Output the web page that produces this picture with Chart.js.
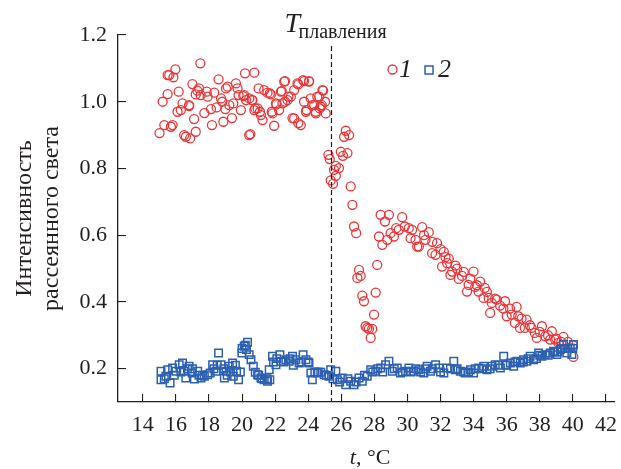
<!DOCTYPE html>
<html>
<head>
<meta charset="utf-8">
<script src="https://cdn.jsdelivr.net/npm/chart.js@4"></script>
<style>
html, body { margin: 0; padding: 0; background: #fff; }
.chart-wrap { width: 621px; height: 469px; }
</style>
</head>
<body>
<div class="chart-wrap"><canvas id="c"></canvas></div>
<script>
// series 1 (circles)
const tempRed = [
  15.01, 15.2, 15.3, 15.5, 15.5, 15.6, 15.7, 15.8, 15.85, 15.97, 16.1, 16.17, 16.3, 16.4, 16.5, 16.6, 16.8, 16.8, 16.86,
  17.0, 17.1, 17.2, 17.2, 17.3, 17.4, 17.48, 17.5, 17.72, 17.86, 17.92, 18.12, 18.18, 18.32, 18.46, 18.58, 18.73,
  18.8, 18.87, 18.99, 19.03, 19.13, 19.23, 19.39, 19.47, 19.63, 19.73, 19.79, 19.93, 20.07, 20.13, 20.18, 20.24, 20.43,
  20.44, 20.5, 20.6, 20.63, 20.74, 20.74, 20.8, 20.94, 21.0, 21.08, 21.14, 21.24, 21.34, 21.54, 21.68, 21.74, 21.8,
  21.84, 21.94, 22.05, 22.08, 22.24, 22.35, 22.4, 22.44, 22.55, 22.6, 22.6, 22.75, 22.8, 22.95, 23.05, 23.15, 23.15,
  23.35, 23.4, 23.4, 23.55, 23.69, 23.75, 23.75, 23.86, 23.9, 24.05, 24.05, 24.15, 24.25, 24.36, 24.45, 24.46, 24.55,
  24.66, 24.7, 24.76, 24.82, 24.86, 24.9, 25.02, 25.06,
  25.22, 25.3, 25.36, 25.5, 25.56, 25.67, 25.67, 25.86, 25.97, 26.1, 26.17, 26.27, 26.37, 26.47, 26.57,
  26.67, 26.77, 26.9, 26.97, 27.07, 27.17, 27.27, 27.37, 27.47, 27.57, 27.67, 27.78, 27.87, 27.98, 28.08,
  28.17, 28.28, 28.38, 28.48, 28.64, 28.78, 28.88, 28.98, 29.18, 29.32, 29.48, 29.68, 29.84, 30.08, 30.19,
  30.28, 30.49, 30.59, 30.69, 30.89, 31.0, 31.09, 31.29, 31.49, 31.5, 31.7, 31.79, 32.0, 32.09, 32.2,
  32.3, 32.4, 32.5, 32.6, 32.7, 32.9, 33.0, 33.1, 33.3, 33.4, 33.6, 33.7, 33.8, 33.99, 34.1,
  34.2, 34.3, 34.4, 34.6, 34.67, 34.8, 34.91, 35.0, 35.1, 35.3, 35.4, 35.6, 35.8, 35.9, 36.0,
  36.2, 36.3, 36.5, 36.6, 36.7, 36.8, 36.9, 37.1, 37.2, 37.4, 37.5, 37.7, 37.82, 38.0, 38.13,
  38.33, 38.5, 38.63, 38.73, 38.93, 39.0, 39.13, 39.3, 39.43, 39.7, 40.0, 40.03
];
const intensRed = [
  0.906, 1.0, 0.93, 1.023, 1.08, 1.08, 0.925, 0.93, 1.073, 1.097, 0.97, 1.03, 0.975, 0.995, 0.9, 0.895, 0.987, 0.99, 0.89,
  1.053, 0.948, 0.91, 1.022, 1.033, 1.04, 1.115, 1.02, 0.966, 1.03, 1.015, 0.978, 0.93, 1.027, 0.983, 1.067, 1.01,
  1.0, 0.94, 0.978, 1.04, 1.045, 0.99, 0.951, 0.995, 1.055, 1.04, 1.02, 0.975, 1.017, 1.02, 1.085, 1.005, 0.9,
  1.01, 0.903, 1.005, 1.005, 1.087, 0.975, 0.98, 0.98, 1.04, 0.97, 0.96, 0.945, 1.035, 1.027, 1.025, 1.022, 0.97,
  0.965, 0.928, 0.995, 0.992, 0.975, 1.03, 1.032, 0.995, 1.06, 1.0, 1.062, 1.005, 1.015, 1.015, 0.951, 1.035, 0.95,
  1.055, 0.936, 1.052, 0.93, 1.065, 1.0, 1.062, 0.97, 0.975, 1.06, 1.062, 1.01, 0.99, 0.99, 0.97, 0.965, 1.015,
  1.015, 0.98, 0.985, 0.99, 1.035, 1.033, 1.0, 0.965,
  0.841, 0.828, 0.764, 0.754, 0.796, 0.808, 0.778, 0.801, 0.85, 0.838, 0.895, 0.913, 0.846, 0.9, 0.746,
  0.691, 0.626, 0.606, 0.472, 0.496, 0.478, 0.419, 0.402, 0.327, 0.322, 0.319, 0.292, 0.319, 0.362, 0.428,
  0.511, 0.596, 0.661, 0.571, 0.641, 0.586, 0.661, 0.606, 0.596, 0.621, 0.616, 0.654, 0.626, 0.621, 0.591,
  0.616, 0.586, 0.566, 0.566, 0.624, 0.6, 0.586, 0.609, 0.546, 0.58, 0.541, 0.576, 0.558, 0.506, 0.55,
  0.534, 0.516, 0.53, 0.481, 0.491, 0.509, 0.5, 0.469, 0.478, 0.49, 0.431, 0.451, 0.47, 0.491, 0.445,
  0.45, 0.431, 0.461, 0.412, 0.442, 0.43, 0.412, 0.367, 0.397, 0.41, 0.407, 0.389, 0.38, 0.402, 0.357,
  0.38, 0.362, 0.337, 0.385, 0.357, 0.322, 0.35, 0.322, 0.347, 0.33, 0.322, 0.307, 0.292, 0.31, 0.327,
  0.297, 0.3, 0.287, 0.312, 0.287, 0.29, 0.277, 0.28, 0.295, 0.28, 0.27, 0.235
];

// series 2 (squares)
const tempBlue = [
  15.1, 15.1, 15.3, 15.4, 15.5, 15.65, 15.8, 15.9, 16.0, 16.2, 16.3, 16.4, 16.5, 16.6, 16.7, 16.8, 16.98, 17.0, 17.12,
  17.32, 17.4, 17.52, 17.6, 17.72, 17.92, 18.07, 18.22, 18.3, 18.43, 18.5, 18.58, 18.73, 18.9, 18.93, 19.03, 19.1,
  19.23, 19.3, 19.43, 19.47, 19.6, 19.67, 19.79, 19.9, 19.99, 20.0, 20.13, 20.2, 20.27, 20.33, 20.43, 20.54, 20.68,
  20.8, 20.94, 21.0, 21.14, 21.2, 21.34, 21.5, 21.54, 21.64, 21.68, 21.84, 21.9, 22.05, 22.1, 22.29, 22.35, 22.5,
  22.65, 22.85, 22.9, 23.05, 23.1, 23.25, 23.45, 23.6, 23.69, 23.86, 24.0, 24.05, 24.16, 24.25, 24.4, 24.55, 24.6,
  24.76, 24.96, 25.1, 25.26, 25.36, 25.5, 25.67, 25.76, 25.9, 26.06, 26.27, 26.4, 26.57, 26.77, 26.9, 27.07, 27.27,
  27.4, 27.57, 27.78, 27.9, 28.08, 28.2, 28.38, 28.5, 28.68, 28.88, 29.08, 29.2, 29.38, 29.58, 29.7, 29.89, 30.09,
  30.2, 30.39, 30.5, 30.69, 30.8, 30.99, 31.1, 31.19, 31.39, 31.5, 31.7, 31.9, 32.0, 32.2, 32.4, 32.6, 32.8,
  32.9, 33.0, 33.2, 33.4, 33.5, 33.7, 33.81, 34.0, 34.1, 34.31, 34.5, 34.61, 34.81, 35.0, 35.11, 35.31, 35.5,
  35.62, 35.82, 35.92, 36.0, 36.22, 36.42, 36.5, 36.62, 36.82, 37.0, 37.02, 37.22, 37.3, 37.42, 37.62, 37.8, 37.93,
  38.0, 38.13, 38.33, 38.5, 38.63, 38.83, 38.9, 39.03, 39.1, 39.24, 39.3, 39.44, 39.5, 39.64, 39.7, 39.84, 39.94,
  40.0, 40.04
];
const intensBlue = [
  0.192, 0.167, 0.17, 0.177, 0.197, 0.157, 0.202, 0.18, 0.192, 0.212, 0.19, 0.217, 0.192, 0.172, 0.2, 0.207, 0.187, 0.2, 0.169,
  0.192, 0.18, 0.172, 0.18, 0.177, 0.182, 0.187, 0.212, 0.2, 0.192, 0.21, 0.247, 0.212, 0.2, 0.172, 0.192, 0.18,
  0.207, 0.19, 0.217, 0.177, 0.21, 0.192, 0.167, 0.19, 0.247, 0.26, 0.267, 0.27, 0.257, 0.279, 0.242, 0.227, 0.207,
  0.189, 0.182, 0.18, 0.172, 0.17, 0.167, 0.17, 0.162, 0.197, 0.167, 0.237, 0.22, 0.212, 0.23, 0.242, 0.222, 0.22,
  0.227, 0.222, 0.23, 0.237, 0.21, 0.227, 0.217, 0.22, 0.242, 0.227, 0.22, 0.217, 0.187, 0.167, 0.19, 0.187, 0.19,
  0.189, 0.182, 0.18, 0.177, 0.197, 0.17, 0.192, 0.167, 0.16, 0.172, 0.152, 0.17, 0.162, 0.152, 0.16, 0.172, 0.162,
  0.18, 0.177, 0.197, 0.19, 0.192, 0.2, 0.202, 0.19, 0.212, 0.222, 0.192, 0.2, 0.202, 0.187, 0.19, 0.192, 0.202,
  0.19, 0.192, 0.2, 0.197, 0.19, 0.187, 0.2, 0.207, 0.192, 0.2, 0.212, 0.202, 0.19, 0.187, 0.202, 0.2, 0.222,
  0.197, 0.2, 0.192, 0.19, 0.187, 0.19, 0.197, 0.187, 0.2, 0.202, 0.2, 0.207, 0.197, 0.2, 0.207, 0.212, 0.21,
  0.202, 0.237, 0.212, 0.21, 0.217, 0.207, 0.22, 0.222, 0.217, 0.22, 0.227, 0.222, 0.23, 0.237, 0.227, 0.23, 0.247,
  0.24, 0.237, 0.242, 0.24, 0.247, 0.252, 0.25, 0.242, 0.25, 0.257, 0.26, 0.272, 0.26, 0.247, 0.26, 0.262, 0.242,
  0.26, 0.272
];

const xTicks = [14, 16, 18, 20, 22, 24, 26, 28, 30, 32, 34, 36, 38, 40, 42];
const yTicks = [0.2, 0.4, 0.6, 0.8, 1.0, 1.2];
const meltTemp = 25.35;

const serif = "'Liberation Serif', 'Times New Roman', serif";
const ink = '#231f20';
const red = '#ec3538';
const blue = '#2c60b2';

const toPoints = (xs, ys) => xs.map((x, i) => ({ x, y: ys[i] }));

// melting line, its label, the legend and the x title (mixed italic)
const overlay = {
  id: 'overlay',
  afterDraw(chart) {
    const { ctx, scales: { x }, chartArea } = chart;
    const mx = Math.round(x.getPixelForValue(meltTemp)) + 0.5;
    ctx.save();
    ctx.strokeStyle = ink;
    ctx.lineWidth = 1.2;
    ctx.setLineDash([5, 3]);
    ctx.beginPath();
    ctx.moveTo(mx, 46);
    ctx.lineTo(mx, chartArea.bottom);
    ctx.stroke();
    ctx.setLineDash([]);

    ctx.fillStyle = ink;
    ctx.textBaseline = 'alphabetic';
    ctx.textAlign = 'left';
    ctx.font = `italic 28px ${serif}`;
    ctx.fillText('T', mx - 47, 32);
    ctx.font = `20px ${serif}`;
    ctx.fillText('плавления', mx - 33, 38);

    // legend
    ctx.lineWidth = 1.3;
    ctx.strokeStyle = red;
    ctx.beginPath();
    ctx.arc(392.5, 69.5, 4.5, 0, Math.PI * 2);
    ctx.stroke();
    ctx.strokeStyle = blue;
    ctx.lineWidth = 1.5;
    ctx.strokeRect(425, 66, 8, 8);
    ctx.fillStyle = ink;
    ctx.font = `italic 26px ${serif}`;
    ctx.fillText('1', 399, 77);
    ctx.fillText('2', 438, 77);

    // x title
    const cx = (chartArea.left + chartArea.right) / 2 + 4;
    ctx.font = `italic 22px ${serif}`;
    const wT = ctx.measureText('t').width;
    ctx.font = `22px ${serif}`;
    const wRest = ctx.measureText(', °C').width;
    const x0 = cx - (wT + wRest) / 2;
    ctx.font = `italic 22px ${serif}`;
    ctx.fillText('t', x0, 464);
    ctx.font = `22px ${serif}`;
    ctx.fillText(', °C', x0 + wT, 464);
    ctx.restore();
  }
};

const axisGrid = { drawOnChartArea: false, drawTicks: true, tickLength: -8, color: ink, lineWidth: 1.1 };
const axisBorder = { display: true, color: ink, width: 1.3 };

new Chart(document.getElementById('c'), {
  type: 'scatter',
  data: {
    datasets: [
      {
        label: '1',
        data: toPoints(tempRed, intensRed),
        pointStyle: 'circle',
        pointRadius: 4.5,
        borderWidth: 1.3,
        borderColor: red,
        backgroundColor: 'rgba(255,255,255,0)',
        order: 0
      },
      {
        label: '2',
        data: toPoints(tempBlue, intensBlue),
        pointStyle: 'rect',
        pointRadius: 5.3,
        borderWidth: 1.5,
        borderColor: blue,
        backgroundColor: 'rgba(255,255,255,0)',
        order: -1
      }
    ]
  },
  options: {
    responsive: true,
    maintainAspectRatio: false,
    animation: false,
    layout: { padding: { top: 35, right: 5, left: 0, bottom: 0 } },
    plugins: { legend: { display: false }, tooltip: { enabled: false } },
    scales: {
      x: {
        type: 'linear',
        min: 12.5,
        max: 42.5,
        afterBuildTicks: s => { s.ticks = xTicks.map(v => ({ value: v })); },
        afterFit: s => { s.height = 67; s.paddingLeft = 0; s.paddingRight = 0; },
        grid: axisGrid,
        border: axisBorder,
        ticks: { color: ink, font: { family: serif, size: 22 }, padding: 18, maxRotation: 0, autoSkip: false }
      },
      y: {
        type: 'linear',
        min: 0.1,
        max: 1.2,
        afterBuildTicks: s => { s.ticks = yTicks.map(v => ({ value: v })); },
        afterFit: s => { s.width = 118; },
        grid: axisGrid,
        border: axisBorder,
        ticks: { color: ink, font: { family: serif, size: 22 }, padding: 19, callback: v => v.toFixed(1) },
        title: {
          display: true,
          text: ['Интенсивность', 'рассеянного света'],
          color: ink,
          font: { family: serif, size: 24, lineHeight: 1.125 },
          padding: { top: 11, bottom: 0 }
        }
      }
    }
  },
  plugins: [overlay]
});
</script>
</body>
</html>
